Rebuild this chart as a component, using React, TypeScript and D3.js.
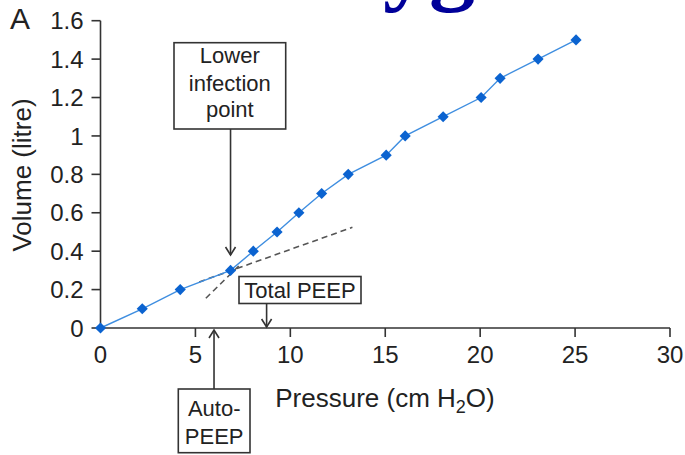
import React from "react";
import * as d3 from "d3";

// ---- data ----
const pressure = [0, 2.2, 4.2, 6.85, 8.05, 9.3, 10.45, 11.65, 13.05, 15.05, 16.05, 18.05, 20.05, 21.05, 23.05, 25.05];
const volume = [0, 0.1, 0.2, 0.3, 0.4, 0.5, 0.6, 0.7, 0.8, 0.9, 1.0, 1.1, 1.2, 1.3, 1.4, 1.5];
const xTicks = [0, 5, 10, 15, 20, 25, 30];
const yTicks = [0, 0.2, 0.4, 0.6, 0.8, 1, 1.2, 1.4, 1.6];
const yTickLabels = ["0", "0.2", "0.4", "0.6", "0.8", "1", "1.2", "1.4", "1.6"];
// tangent (dashed) lines: [pressure, volume] endpoints
const shallowTangent = [[5.2, 0.24], [13.27, 0.524]];
const steepTangent = [[5.55, 0.155], [7.43, 0.337]];
// annotation targets
const lowerInflectionP = 6.85;
const totalPEEP = 8.75;
const autoPEEP = 5.98;

const W = 685, H = 455;
const FONT = "'Liberation Sans', Arial, Helvetica, sans-serif";

export default function App() {
  const x = d3.scaleLinear().domain([0, 30]).range([100.5, 670]);
  const y = d3.scaleLinear().domain([0, 1.6]).range([328, 20.7]);
  const pts = pressure.map((p, i) => [p, volume[i]] as [number, number]);
  const line = d3.line<[number, number]>().x(d => x(d[0])).y(d => y(d[1]));
  const diamond = d3.symbol().type(d3.symbolSquare).size(62)();
  const tc = "#222";
  const ac = "#333";

  const chevron = (cx: number, cy: number, dir: number) =>
    `M${cx - 5},${cy - dir * 8} L${cx},${cy} L${cx + 5},${cy - dir * 8}`;

  const xp = x(lowerInflectionP);
  const xt = x(totalPEEP);
  const xa = x(autoPEEP);

  return (
    <svg width={W} height={H} style={{ position: "absolute", left: 0, top: 0, background: "#fff" }}
      fontFamily={FONT}>
      {/* cropped heading fragment */}
      <text x={383} y={-6} fontFamily="'Liberation Serif', 'Times New Roman', serif" fontWeight="bold" fontSize={92} fill="#000099">yg</text>

      <text x={10} y={29} fontSize={30} fill={tc}>A</text>

      {/* y axis */}
      <line x1={x(0)} x2={x(0)} y1={y(0)} y2={y(1.6)} stroke={ac} strokeWidth={1.6} />
      {yTicks.map((t, i) => (
        <g key={"y" + i}>
          <line x1={x(0) - 9} x2={x(0)} y1={y(t)} y2={y(t)} stroke={ac} strokeWidth={1.6} />
          <text x={x(0) - 17} y={y(t)} dy="0.36em" textAnchor="end" fontSize={24} fill={tc}>{yTickLabels[i]}</text>
        </g>
      ))}
      {/* x axis */}
      <line x1={x(0)} x2={x(30)} y1={y(0)} y2={y(0)} stroke={ac} strokeWidth={1.6} />
      {xTicks.map((t, i) => (
        <g key={"x" + i}>
          {t > 0 && <line x1={x(t)} x2={x(t)} y1={y(0)} y2={y(0) + 9} stroke={ac} strokeWidth={1.6} />}
          <text x={x(t)} y={363} textAnchor="middle" fontSize={24} fill={tc}>{t}</text>
        </g>
      ))}

      <text x={385} y={407} textAnchor="middle" fontSize={26} fill={tc}>
        Pressure (cm H<tspan fontSize={18} dy={6}>2</tspan><tspan dy={-6}>O)</tspan>
      </text>
      <text transform={`translate(31,175) rotate(-90)`} textAnchor="middle" fontSize={26} fill={tc}>Volume (litre)</text>

      {/* tangents */}
      <path d={line(shallowTangent as [number, number][]) || ""} fill="none" stroke="#555" strokeWidth={1.6} strokeDasharray="6,4" />
      <path d={line(steepTangent as [number, number][]) || ""} fill="none" stroke="#555" strokeWidth={1.6} strokeDasharray="6,4" />

      {/* data */}
      <path d={line(pts) || ""} fill="none" stroke="#3f8ee0" strokeWidth={1.4} />
      {pts.map((d, i) => (
        <path key={"p" + i} d={diamond || ""} transform={`translate(${x(d[0])},${y(d[1])}) rotate(45)`} fill="#0b63d0" />
      ))}

      {/* Lower inflection point box */}
      <rect x={174} y={42.7} width={111.7} height={86.3} fill="#fff" stroke={ac} strokeWidth={1.6} />
      <text x={229.8} y={63} textAnchor="middle" fontSize={22} fill={tc}>Lower</text>
      <text x={229.8} y={91} textAnchor="middle" fontSize={22} fill={tc}>infection</text>
      <text x={229.8} y={117} textAnchor="middle" fontSize={22} fill={tc}>point</text>
      <line x1={xp} x2={xp} y1={129} y2={255} stroke={ac} strokeWidth={1.6} />
      <path d={chevron(xp, 255, 1)} fill="none" stroke={ac} strokeWidth={1.6} />

      {/* Total PEEP box */}
      <rect x={239} y={276.5} width={122} height={27} fill="#fff" stroke={ac} strokeWidth={1.6} />
      <text x={300} y={297.5} textAnchor="middle" fontSize={22} fill={tc}>Total PEEP</text>
      <line x1={xt} x2={xt} y1={303.5} y2={327} stroke={ac} strokeWidth={1.6} />
      <path d={chevron(xt, 327, 1)} fill="none" stroke={ac} strokeWidth={1.6} />

      {/* Auto-PEEP box */}
      <rect x={178.3} y={389} width={71.7} height={63.7} fill="#fff" stroke={ac} strokeWidth={1.6} />
      <text x={214.2} y={416} textAnchor="middle" fontSize={22} fill={tc}>Auto-</text>
      <text x={214.2} y={444} textAnchor="middle" fontSize={22} fill={tc}>PEEP</text>
      <line x1={xa} x2={xa} y1={389} y2={330} stroke={ac} strokeWidth={1.6} />
      <path d={chevron(xa, 330, -1)} fill="none" stroke={ac} strokeWidth={1.6} />
    </svg>
  );
}
